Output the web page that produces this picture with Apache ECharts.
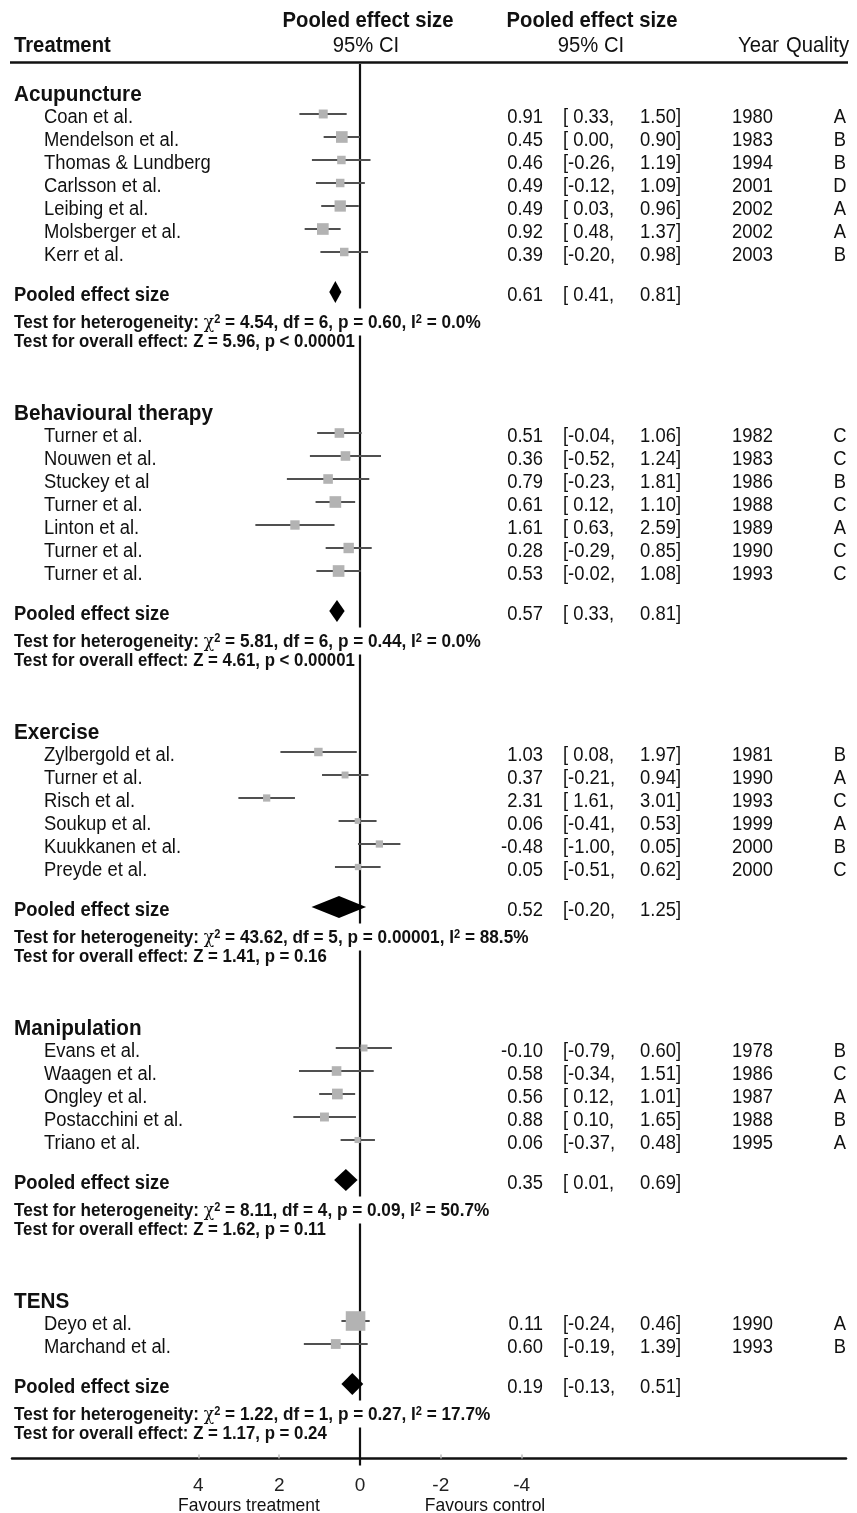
<!DOCTYPE html>
<html><head><meta charset="utf-8">
<script src="https://cdn.jsdelivr.net/npm/echarts@6/dist/echarts.min.js"></script>
<style>html,body{margin:0;padding:0;background:#fff}#c{width:857px;height:1513px}</style>
</head><body><div id="c"></div>
<script>
// ---------------- DATA ----------------
const groups = ['Acupuncture', 'Behavioural therapy', 'Exercise', 'Manipulation', 'TENS'];
const studyGroup = [0,0,0,0,0,0,0, 1,1,1,1,1,1,1, 2,2,2,2,2,2, 3,3,3,3,3, 4,4];
const studies = [
  'Coan et al.', 'Mendelson et al.', 'Thomas & Lundberg', 'Carlsson et al.', 'Leibing et al.', 'Molsberger et al.', 'Kerr et al.',
  'Turner et al.', 'Nouwen et al.', 'Stuckey et al', 'Turner et al.', 'Linton et al.', 'Turner et al.', 'Turner et al.',
  'Zylbergold et al.', 'Turner et al.', 'Risch et al.', 'Soukup et al.', 'Kuukkanen et al.', 'Preyde et al.',
  'Evans et al.', 'Waagen et al.', 'Ongley et al.', 'Postacchini et al.', 'Triano et al.',
  'Deyo et al.', 'Marchand et al.'
];
const effect = [0.91, 0.45, 0.46, 0.49, 0.49, 0.92, 0.39,
  0.51, 0.36, 0.79, 0.61, 1.61, 0.28, 0.53,
  1.03, 0.37, 2.31, 0.06, -0.48, 0.05,
  -0.10, 0.58, 0.56, 0.88, 0.06,
  0.11, 0.60];
const ciLow = [0.33, 0.00, -0.26, -0.12, 0.03, 0.48, -0.20,
  -0.04, -0.52, -0.23, 0.12, 0.63, -0.29, -0.02,
  0.08, -0.21, 1.61, -0.41, -1.00, -0.51,
  -0.79, -0.34, 0.12, 0.10, -0.37,
  -0.24, -0.19];
const ciHigh = [1.50, 0.90, 1.19, 1.09, 0.96, 1.37, 0.98,
  1.06, 1.24, 1.81, 1.10, 2.59, 0.85, 1.08,
  1.97, 0.94, 3.01, 0.53, 0.05, 0.62,
  0.60, 1.51, 1.01, 1.65, 0.48,
  0.46, 1.39];
const years = [1980, 1983, 1994, 2001, 2002, 2002, 2003,
  1982, 1983, 1986, 1988, 1989, 1990, 1993,
  1981, 1990, 1993, 1999, 2000, 2000,
  1978, 1986, 1987, 1988, 1995,
  1990, 1993];
const quality = ['A','B','B','D','A','A','B',
  'C','C','B','C','A','C','C',
  'B','A','C','A','B','C',
  'B','C','A','B','A',
  'A','B'];
// relative study weights
const weights = [10, 17, 9, 9, 16, 17, 9,
  11.5, 11.5, 11.5, 17, 11, 13.5, 17,
  9, 6, 6.6, 4.2, 6.6, 5,
  6, 11.5, 14.4, 10, 4.7,
  48, 12];
const pooledEffect = [0.61, 0.57, 0.52, 0.35, 0.19];
const pooledLow = [0.41, 0.33, -0.20, 0.01, -0.13];
const pooledHigh = [0.81, 0.81, 1.25, 0.69, 0.51];
const hetChi2 = ['4.54', '5.81', '43.62', '8.11', '1.22'];
const hetDf = [6, 6, 5, 4, 1];
const hetP = ['0.60', '0.44', '0.00001', '0.09', '0.27'];
const hetI2 = ['0.0', '0.0', '88.5', '50.7', '17.7'];
const overallZ = ['5.96', '4.61', '1.41', '1.62', '1.17'];
const overallP = ['< 0.00001', '< 0.00001', '= 0.16', '= 0.11', '= 0.24'];
const xTicks = [4, 2, 0, -2, -4];

// ---------------- LAYOUT ----------------
const FONT = '"Liberation Sans", Arial, Helvetica, sans-serif';
const TXT = '#111';
const SX = 0.92; // horizontal text compression
const W = 857, H = 1513;
const PLOT_LEFT = 12, PLOT_RIGHT = 846, ZERO_X = 360, PX_PER_UNIT = 40.4;
const TITLE0 = 95, FIRST = 22, STEP = 23, POOL_GAP = 40, HET_GAP = 27, OV_GAP = 19.5, NEXT_GAP = 72.5, AXIS_GAP = 25;
const MARK_DY = -3, ZERO_TOP = 64;

const rows = [];
let cursor = TITLE0;
groups.forEach((name, g) => {
  rows.push({ kind: 'title', g, y: cursor });
  const idx = studyGroup.map((sg, i) => sg === g ? i : -1).filter(i => i >= 0);
  idx.forEach((i, k) => rows.push({ kind: 'study', g, i, y: cursor + FIRST + STEP * k }));
  const last = cursor + FIRST + STEP * (idx.length - 1);
  const py = last + POOL_GAP;
  rows.push({ kind: 'pooled', g, y: py });
  rows.push({ kind: 'het', g, y: py + HET_GAP });
  rows.push({ kind: 'overall', g, y: py + HET_GAP + OV_GAP });
  cursor = py + HET_GAP + OV_GAP + NEXT_GAP;
});
const axisY = rows[rows.length - 1].y + AXIS_GAP;

const xMax = (ZERO_X - PLOT_LEFT) / PX_PER_UNIT;
const xMin = -(PLOT_RIGHT - ZERO_X) / PX_PER_UNIT;

function f2(v) { return v.toFixed(2); }
function loStr(v) { return '[' + (v < 0 ? '' : ' ') + f2(v) + ','; }

const COL_EFF = 543, COL_LO = 563, COL_HI = 681, COL_YEAR = 732, COL_Q = 840;

function txt(x, y, text, opt) {
  return { type: 'text', x, y, scaleX: SX, style: Object.assign({ text, fill: TXT, fontFamily: FONT, fontSize: 20, fontWeight: 'normal', align: 'left', verticalAlign: 'middle' }, opt || {}) };
}

function renderText(params, api) {
  const r = rows[params.dataIndex];
  const y = api.coord([0, r.y])[1];
  const ch = [];
  if (r.kind === 'title') {
    ch.push(txt(14, y, groups[r.g], { fontWeight: 'bold', fontSize: 22.5 }));
  } else if (r.kind === 'study') {
    const i = r.i;
    ch.push(txt(44, y, studies[i]));
    ch.push(txt(COL_EFF, y, f2(effect[i]), { align: 'right' }));
    ch.push(txt(COL_LO, y, loStr(ciLow[i])));
    ch.push(txt(COL_HI, y, f2(ciHigh[i]) + ']', { align: 'right' }));
    ch.push(txt(COL_YEAR, y, String(years[i])));
    ch.push(txt(COL_Q, y, quality[i], { align: 'center' }));
  } else if (r.kind === 'pooled') {
    const g = r.g;
    ch.push(txt(14, y, 'Pooled effect size', { fontWeight: 'bold', fontSize: 20 }));
    ch.push(txt(COL_EFF, y, f2(pooledEffect[g]), { align: 'right' }));
    ch.push(txt(COL_LO, y, loStr(pooledLow[g])));
    ch.push(txt(COL_HI, y, f2(pooledHigh[g]) + ']', { align: 'right' }));
  } else if (r.kind === 'het') {
    const g = r.g;
    const t = '{t|Test for heterogeneity: }{c|\u03c7}{s|2}{t| = ' + hetChi2[g] + ', df = ' + hetDf[g] + ', p = ' + hetP[g] + ', I}{s|2}{t| = ' + hetI2[g] + '%}';
    ch.push({ type: 'text', x: 14, y, scaleX: SX, style: {
      text: t, align: 'left', verticalAlign: 'middle', fontFamily: FONT, fontSize: 18.7, fontWeight: 'bold', fill: TXT,
      backgroundColor: '#fff', padding: [5, 3, 3, 0], lineHeight: 19,
      rich: {
        t: { fontFamily: FONT, fontSize: 18.7, fontWeight: 'bold', fill: TXT, lineHeight: 19 },
        c: { fontFamily: '"DejaVu Serif", serif', fontSize: 18.7, fontWeight: 'normal', fill: TXT, lineHeight: 19 },
        s: { fontFamily: FONT, fontSize: 12, fontWeight: 'bold', fill: TXT, lineHeight: 19, verticalAlign: 'top' }
      }
    } });
  } else if (r.kind === 'overall') {
    const g = r.g;
    ch.push(txt(14, y, 'Test for overall effect: Z = ' + overallZ[g] + ', p ' + overallP[g], { fontWeight: 'bold', fontSize: 18.3 }));
  }
  return { type: 'group', children: ch };
}

const studyData = rows.filter(r => r.kind === 'study').map(r => [effect[r.i], ciLow[r.i], ciHigh[r.i], r.y, weights[r.i]]);
const pooledData = rows.filter(r => r.kind === 'pooled').map(r => [pooledEffect[r.g], pooledLow[r.g], pooledHigh[r.g], r.y]);

function gtext(x, y, text, opt) {
  return { type: 'text', x, y, scaleX: SX, style: Object.assign({ text, fontFamily: FONT, fontSize: 22, fontWeight: 'normal', fill: TXT, align: 'center', verticalAlign: 'middle' }, opt || {}) };
}

const chart = echarts.init(document.getElementById('c'), null, { renderer: 'canvas' });
chart.setOption({
  backgroundColor: '#fff',
  animation: false,
  grid: { left: PLOT_LEFT, right: W - PLOT_RIGHT, top: 0, bottom: H - axisY },
  xAxis: {
    type: 'value', inverse: true, min: xMin, max: xMax, position: 'bottom',
    splitLine: { show: false },
    axisLine: { show: true, onZero: false, lineStyle: { color: '#111', width: 2.5 } },
    axisTick: { show: true, customValues: [4, 2, -2, -4], length: 4, inside: true, lineStyle: { color: '#bbb', width: 1.5 } },
    axisLabel: { customValues: xTicks, color: '#222', fontFamily: FONT, fontSize: 19, margin: 18, formatter: v => String(v) }
  },
  yAxis: { type: 'value', inverse: true, min: 0, max: axisY, show: false },
  series: [
    {
      type: 'custom', name: 'zero', z: 1, silent: true,
      data: [[0, ZERO_TOP]], encode: { x: 0, y: 1 },
      renderItem: (p, api) => {
        const a = api.coord([0, ZERO_TOP]);
        const b = api.coord([0, axisY]);
        return { type: 'line', shape: { x1: a[0], y1: a[1], x2: b[0], y2: b[1] + 7 }, style: { stroke: '#111', lineWidth: 2.2 } };
      }
    },
    {
      type: 'custom', name: 'studies', z: 3, silent: true,
      data: studyData, encode: { x: [0, 1, 2], y: 3 },
      renderItem: (p, api) => {
        const y = api.value(3);
        const c = api.coord([api.value(0), y]);
        const l = api.coord([api.value(1), y]);
        const h = api.coord([api.value(2), y]);
        const s = Math.sqrt(8 * api.value(4));
        const yy = c[1] + MARK_DY;
        return { type: 'group', children: [
          { type: 'line', shape: { x1: l[0], y1: yy, x2: h[0], y2: yy }, style: { stroke: '#505050', lineWidth: 2 } },
          { type: 'rect', shape: { x: c[0] - s / 2, y: yy - s / 2, width: s, height: s }, style: { fill: '#b3b3b3' } }
        ] };
      }
    },
    {
      type: 'custom', name: 'pooled', z: 4, silent: true,
      data: pooledData, encode: { x: [0, 1, 2], y: 3 },
      renderItem: (p, api) => {
        const y = api.value(3);
        const c = api.coord([api.value(0), y]);
        const l = api.coord([api.value(1), y]);
        const h = api.coord([api.value(2), y]);
        const yy = c[1] + MARK_DY;
        const hh = 11;
        return { type: 'polygon', shape: { points: [[l[0] - 2, yy], [c[0], yy - hh], [h[0] + 2, yy], [c[0], yy + hh]] }, style: { fill: '#000' } };
      }
    },
    {
      type: 'custom', name: 'text', z: 6, silent: true,
      data: rows.map(r => [0, r.y]), encode: { x: 0, y: 1 },
      renderItem: renderText
    }
  ],
  graphic: [
    { type: 'line', z: 10, shape: { x1: 10, y1: 62.5, x2: 848, y2: 62.5 }, style: { stroke: '#111', lineWidth: 2.5 } },
    gtext(368, 21, 'Pooled effect size', { fontWeight: 'bold' }),
    gtext(366, 46, '95% CI'),
    gtext(592, 21, 'Pooled effect size', { fontWeight: 'bold' }),
    gtext(591, 46, '95% CI'),
    gtext(14, 46, 'Treatment', { fontWeight: 'bold', align: 'left' }),
    gtext(779, 46, 'Year', { align: 'right' }),
    gtext(849, 46, 'Quality', { align: 'right' }),
    gtext(249, 1506, 'Favours treatment', { fontSize: 19 }),
    gtext(485, 1506, 'Favours control', { fontSize: 19 })
  ]
});
</script>
</body></html>
